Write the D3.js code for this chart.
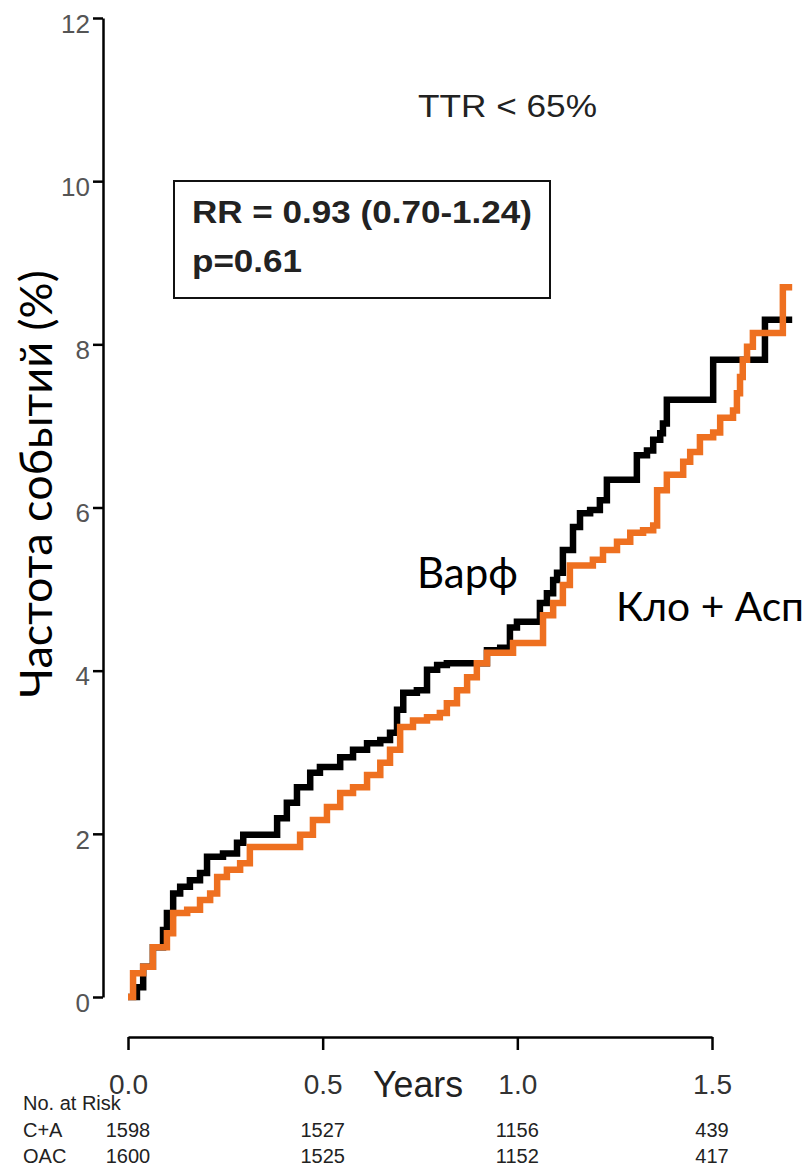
<!DOCTYPE html>
<html>
<head>
<meta charset="utf-8">
<script src="https://cdn.jsdelivr.net/npm/d3@7"></script>
<style>
  body { margin: 0; background: #fff; }
  svg { display: block; }
</style>
</head>
<body>
<div class="chart"></div>
<script>
// data: cumulative event rate (%) by years
const oacTimes = [0, 0.023, 0.039, 0.064, 0.090, 0.100, 0.116, 0.134, 0.159, 0.185, 0.203, 0.244, 0.280, 0.296,
  0.383, 0.408, 0.434, 0.468, 0.493, 0.545, 0.578, 0.614, 0.648, 0.673, 0.691, 0.707, 0.742, 0.768, 0.794, 0.819,
  0.922, 0.956, 0.981, 0.999, 1.058, 1.076, 1.092, 1.102, 1.117, 1.143, 1.161, 1.187, 1.212, 1.230, 1.307, 1.333,
  1.349, 1.367, 1.374, 1.384, 1.503, 1.636, 1.706];
const oacRates = [0, 0.12, 0.37, 0.61, 0.82, 1.03, 1.27, 1.35, 1.43, 1.52, 1.72, 1.76, 1.89, 1.99,
  2.19, 2.38, 2.57, 2.75, 2.82, 2.94, 3.03, 3.11, 3.15, 3.24, 3.52, 3.73, 3.76, 4.01, 4.07, 4.09,
  4.25, 4.28, 4.53, 4.60, 4.83, 4.95, 5.11, 5.20, 5.48, 5.76, 5.93, 5.97, 6.09, 6.34, 6.64, 6.70,
  6.83, 6.91, 7.03, 7.32, 7.81, 8.30, 8.30];

const caTimes = [0, 0.013, 0.039, 0.064, 0.100, 0.116, 0.152, 0.185, 0.211, 0.229, 0.254, 0.288, 0.313, 0.442,
  0.475, 0.511, 0.545, 0.578, 0.614, 0.648, 0.673, 0.699, 0.732, 0.768, 0.801, 0.819, 0.845, 0.871, 0.896, 0.922,
  0.989, 1.066, 1.092, 1.117, 1.135, 1.194, 1.220, 1.256, 1.290, 1.323, 1.349, 1.359, 1.384, 1.426, 1.444, 1.469,
  1.503, 1.521, 1.554, 1.564, 1.572, 1.579, 1.590, 1.605, 1.682, 1.706];
const caRates = [0, 0.29, 0.37, 0.61, 0.78, 1.03, 1.07, 1.19, 1.27, 1.47, 1.56, 1.64, 1.84, 1.99,
  2.17, 2.33, 2.50, 2.57, 2.72, 2.87, 3.03, 3.31, 3.39, 3.43, 3.48, 3.60, 3.76, 3.92, 4.09, 4.22,
  4.34, 4.68, 4.83, 5.05, 5.29, 5.36, 5.48, 5.58, 5.69, 5.72, 5.78, 6.21, 6.40, 6.56, 6.68, 6.86,
  6.92, 7.10, 7.19, 7.40, 7.60, 7.81, 7.97, 8.14, 8.70, 8.70];

const yTicks = [0, 2, 4, 6, 8, 10, 12];
const xTicks = [0, 0.5, 1.0, 1.5];
const riskGroups = ["C+A", "OAC"];
const riskCA = [1598, 1527, 1156, 439];
const riskOAC = [1600, 1525, 1152, 417];

const svgWidth = 811;
const svgHeight = 1166;

const svg = d3.select(".chart")
  .append("svg")
  .attr("width", svgWidth)
  .attr("height", svgHeight);

// scales
const xScale = d3.scaleLinear().domain([0, 1.5]).range([128, 712]);
const yScale = d3.scaleLinear().domain([0, 12]).range([997, 18]);

// y axis (offset to the left, R style)
const yAxis = svg.append("g")
  .attr("transform", "translate(103,0)")
  .call(d3.axisLeft(yScale).tickValues(yTicks).tickSize(10).tickSizeOuter(0).tickPadding(3));
yAxis.select(".domain").attr("stroke-width", 2.5);
yAxis.selectAll(".tick line").attr("stroke-width", 2.5);
yAxis.selectAll(".tick text")
  .attr("font-family", "Liberation Sans, Arial, sans-serif")
  .attr("font-size", 26)
  .attr("fill", "#555")
  .attr("dy", "0.55em");

// x axis
const xAxis = svg.append("g")
  .attr("transform", "translate(0,1037)")
  .call(d3.axisBottom(xScale).tickValues(xTicks).tickFormat(d3.format(".1f"))
    .tickSize(13).tickSizeOuter(0).tickPadding(24));
xAxis.select(".domain").attr("stroke-width", 2.5);
xAxis.selectAll(".tick line").attr("stroke-width", 2.5);
xAxis.selectAll(".tick text")
  .attr("font-family", "Liberation Sans, Arial, sans-serif")
  .attr("font-size", 28)
  .attr("fill", "#333");

svg.append("text")
  .attr("x", 418).attr("y", 1097)
  .attr("text-anchor", "middle")
  .attr("font-family", "Liberation Sans, Arial, sans-serif")
  .attr("font-size", 36)
  .attr("fill", "#222")
  .attr("textLength", 90)
  .attr("lengthAdjust", "spacingAndGlyphs")
  .text("Years");

// y axis title
svg.append("text")
  .attr("transform", "translate(52,484) rotate(-90)")
  .attr("text-anchor", "middle")
  .attr("font-family", "Lato, 'Open Sans', sans-serif")
  .attr("font-size", 45)
  .attr("fill", "#000")
  .text("Частота событий (%)");

// step curves
const line = d3.line()
  .x(d => xScale(d[0]))
  .y(d => yScale(d[1]))
  .curve(d3.curveStepAfter);

svg.append("path")
  .attr("d", line(d3.zip(oacTimes, oacRates)))
  .attr("fill", "none")
  .attr("stroke", "#000")
  .attr("stroke-width", 6.5);

svg.append("path")
  .attr("d", line(d3.zip(caTimes, caRates)))
  .attr("fill", "none")
  .attr("stroke", "#ee7020")
  .attr("stroke-width", 6.5);

// annotations
svg.append("text")
  .attr("x", 418).attr("y", 117)
  .attr("font-family", "Liberation Sans, Arial, sans-serif")
  .attr("font-size", 32)
  .attr("fill", "#222")
  .attr("textLength", 179)
  .attr("lengthAdjust", "spacingAndGlyphs")
  .text("TTR < 65%");

svg.append("rect")
  .attr("x", 174).attr("y", 181)
  .attr("width", 376).attr("height", 117)
  .attr("fill", "#fff")
  .attr("stroke", "#111")
  .attr("stroke-width", 2);

svg.append("text")
  .attr("x", 192).attr("y", 223)
  .attr("font-family", "Liberation Sans, Arial, sans-serif")
  .attr("font-weight", "bold")
  .attr("font-size", 32)
  .attr("fill", "#222")
  .attr("textLength", 340)
  .attr("lengthAdjust", "spacingAndGlyphs")
  .text("RR = 0.93 (0.70-1.24)");

svg.append("text")
  .attr("x", 192).attr("y", 272)
  .attr("font-family", "Liberation Sans, Arial, sans-serif")
  .attr("font-weight", "bold")
  .attr("font-size", 32)
  .attr("fill", "#222")
  .attr("textLength", 110)
  .attr("lengthAdjust", "spacingAndGlyphs")
  .text("p=0.61");

svg.append("text")
  .attr("x", 417).attr("y", 588)
  .attr("font-family", "Lato, 'Open Sans', sans-serif")
  .attr("font-size", 42)
  .attr("fill", "#000")
  .text("Варф");

svg.append("text")
  .attr("x", 616).attr("y", 621)
  .attr("font-family", "Lato, 'Open Sans', sans-serif")
  .attr("font-size", 41)
  .attr("fill", "#000")
  .attr("textLength", 188)
  .attr("lengthAdjust", "spacingAndGlyphs")
  .text("Кло + Асп");

// number at risk table
const riskFont = "Liberation Sans, Arial, sans-serif";
svg.append("text")
  .attr("x", 23).attr("y", 1110)
  .attr("font-family", riskFont)
  .attr("font-size", 20)
  .attr("fill", "#222")
  .text("No. at Risk");

[riskCA, riskOAC].forEach((row, i) => {
  const yRow = 1137 + i * 26;
  svg.append("text")
    .attr("x", 23).attr("y", yRow)
    .attr("font-family", riskFont)
    .attr("font-size", 20)
    .attr("fill", "#222")
    .text(riskGroups[i]);

  svg.selectAll(null)
    .data(row)
    .enter()
    .append("text")
    .attr("x", (d, j) => xScale(xTicks[j]))
    .attr("y", yRow)
    .attr("text-anchor", "middle")
    .attr("font-family", riskFont)
    .attr("font-size", 20)
    .attr("fill", "#222")
    .text(d => d);
});
</script>
</body>
</html>
